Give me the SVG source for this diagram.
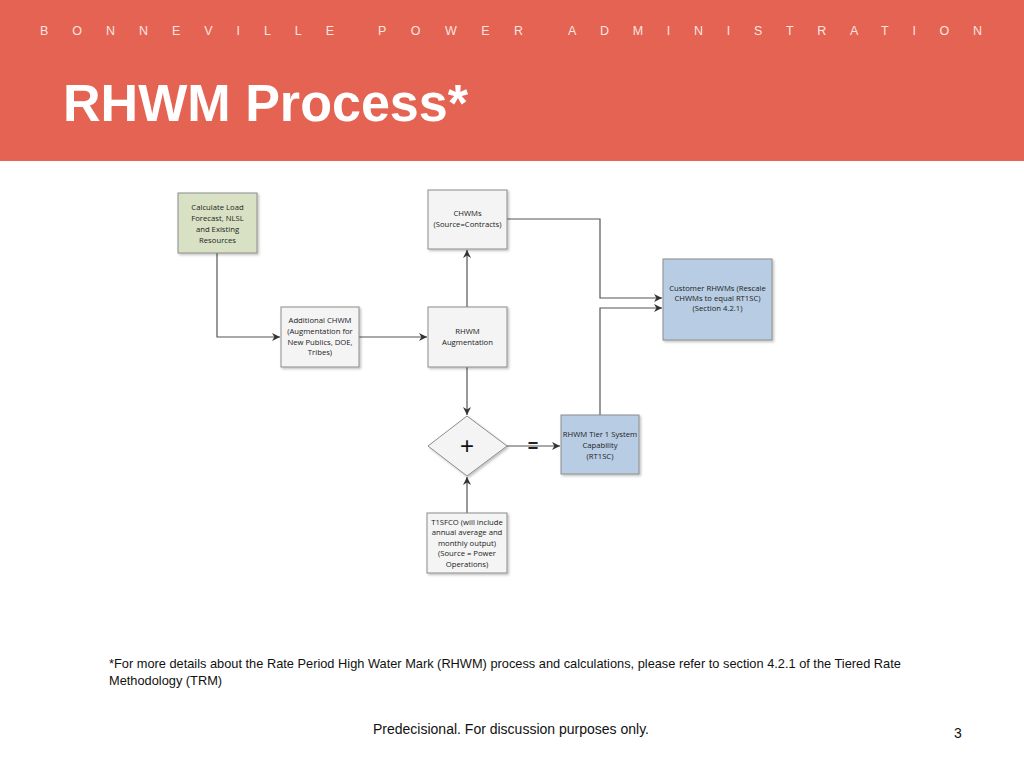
<svg xmlns="http://www.w3.org/2000/svg" width="1024" height="768" viewBox="0 0 1024 768">
<style>
.nt{font-family:"Open Sans","Liberation Sans",sans-serif;font-size:7.7px;fill:#222;text-anchor:middle}
.box{stroke:#8c8c8c;stroke-width:1}
.wht{fill:#f4f4f4}
.blu{fill:#b8cde4}
.grn{fill:#d9e1c4}
.cn{fill:none;stroke:#555;stroke-width:1.2}
.hd{font-family:"Liberation Sans",Arial,sans-serif;font-size:12.5px;fill:#fbe5e0}
.ft{font-family:"Liberation Sans",Arial,sans-serif;font-size:12.8px;fill:#111}
.ft2{font-family:"Liberation Sans",Arial,sans-serif;font-size:14px;fill:#111}
</style>
<defs>
<marker id="ah" viewBox="0 0 10 10" refX="10" refY="5" markerWidth="8" markerHeight="8" markerUnits="userSpaceOnUse" orient="auto">
<path d="M0,0 L10,5 L0,10 L3,5 Z" fill="#333"/>
</marker>
<filter id="sh" x="-10%" y="-10%" width="130%" height="130%"><feDropShadow dx="1.5" dy="1.5" stdDeviation="1" flood-color="#000" flood-opacity="0.25"/></filter>
</defs>
<rect width="1024" height="768" fill="#fff"/>
<rect width="1024" height="161" fill="#e46352"/>
<text class="hd" x="40" y="35" textLength="294" lengthAdjust="spacing">BONNEVILLE</text>
<text class="hd" x="378" y="35" textLength="145" lengthAdjust="spacing">POWER</text>
<text class="hd" x="568" y="35" textLength="414" lengthAdjust="spacing">ADMINISTRATION</text>
<text x="63" y="121" font-family="Liberation Sans,Arial,sans-serif" font-size="51" font-weight="bold" fill="#fff" textLength="405" lengthAdjust="spacingAndGlyphs">RHWM Process*</text>

<g id="connectors">
<polyline class="cn" points="507,219 600,219 600,298 662,298" marker-end="url(#ah)"/>
<polyline class="cn" points="600,415 600,308 662,308" marker-end="url(#ah)"/>
<polyline class="cn" points="217,253 217,337 280,337" marker-end="url(#ah)"/>
<line class="cn" x1="359" y1="337" x2="427" y2="337" marker-end="url(#ah)"/>
<line class="cn" x1="467" y1="307" x2="467" y2="250" marker-end="url(#ah)"/>
<line class="cn" x1="467" y1="367" x2="467" y2="415" marker-end="url(#ah)"/>
<line class="cn" x1="507" y1="446" x2="560" y2="446" marker-end="url(#ah)"/>
<line class="cn" x1="467" y1="513" x2="467" y2="477" marker-end="url(#ah)"/>
<text x="533" y="452" font-family="Liberation Sans,Arial,sans-serif" font-size="18" font-weight="bold" fill="#222" text-anchor="middle">=</text>
</g>

<g id="calc-load">
<rect class="box grn" x="178" y="193" width="79" height="60" filter="url(#sh)"/>
<text class="nt"><tspan x="217.5" y="210">Calculate Load</tspan><tspan x="217.5" y="221">Forecast, NLSL</tspan><tspan x="217.5" y="232">and Existing</tspan><tspan x="217.5" y="243">Resources</tspan></text>
</g>

<g id="chwms">
<rect class="box wht" x="428" y="190" width="79" height="59" filter="url(#sh)"/>
<text class="nt"><tspan x="467.5" y="216">CHWMs</tspan><tspan x="467.5" y="227">(Source=Contracts)</tspan></text>
</g>

<g id="customer-rhwms">
<rect class="box blu" x="663" y="259" width="109" height="81" filter="url(#sh)"/>
<text class="nt"><tspan x="717.5" y="291">Customer RHWMs  (Rescale</tspan><tspan x="717.5" y="301">CHWMs to equal RT1SC)</tspan><tspan x="717.5" y="311">(Section 4.2.1)</tspan></text>
</g>

<g id="additional-chwm">
<rect class="box wht" x="281" y="307" width="78" height="60" filter="url(#sh)"/>
<text class="nt"><tspan x="320" y="323">Additional CHWM</tspan><tspan x="320" y="334">(Augmentation for</tspan><tspan x="320" y="345">New Publics, DOE,</tspan><tspan x="320" y="355">Tribes)</tspan></text>
</g>

<g id="rhwm-augmentation">
<rect class="box wht" x="428" y="307" width="79" height="60" filter="url(#sh)"/>
<text class="nt"><tspan x="467.5" y="334">RHWM</tspan><tspan x="467.5" y="345">Augmentation</tspan></text>
</g>

<g id="plus-diamond">
<polygon class="box wht" points="467,416 507,446 467,476 428,446" filter="url(#sh)"/>
<text x="467" y="454" font-family="Liberation Sans,Arial,sans-serif" font-size="24" fill="#111" text-anchor="middle">+</text>
</g>

<g id="rhwm-tier1">
<rect class="box blu" x="561" y="415" width="78" height="59" filter="url(#sh)"/>
<text class="nt"><tspan x="600" y="437">RHWM Tier 1 System</tspan><tspan x="600" y="448">Capability</tspan><tspan x="600" y="459">(RT1SC)</tspan></text>
</g>

<g id="t1sfco">
<rect class="box wht" x="427" y="513" width="80" height="60" filter="url(#sh)"/>
<text class="nt"><tspan x="467" y="525">T1SFCO (will include</tspan><tspan x="467" y="535">annual average and</tspan><tspan x="467" y="546">monthly output)</tspan><tspan x="467" y="556">(Source = Power</tspan><tspan x="467" y="567">Operations)</tspan></text>
</g>

<text class="ft" x="109" y="668">*For more details about the Rate Period High Water Mark (RHWM) process and calculations, please refer to section 4.2.1 of the Tiered Rate</text>
<text class="ft" x="109" y="685">Methodology (TRM)</text>
<text class="ft2" x="511" y="734" text-anchor="middle">Predecisional. For discussion purposes only.</text>
<text class="ft2" x="958" y="738" text-anchor="middle">3</text>
</svg>
